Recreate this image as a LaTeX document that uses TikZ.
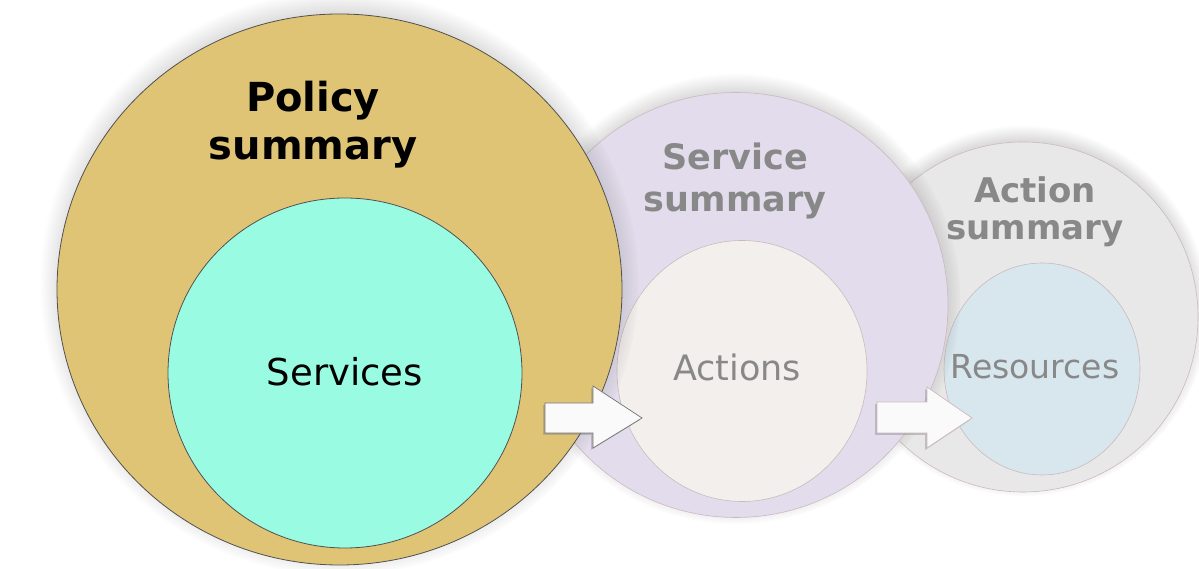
\documentclass[tikz,border=0pt]{standalone}
\usepackage{fontspec}
\setmainfont{DejaVu Sans}
\usetikzlibrary{shapes.geometric,shadows}
\definecolor{goldfill}{RGB}{224,196,118}
\definecolor{aquafill}{RGB}{153,252,226}
\definecolor{lavfill}{RGB}{226,220,236}
\definecolor{actfill}{RGB}{242,239,236}
\definecolor{asumfill}{RGB}{232,232,232}
\definecolor{resfill}{RGB}{216,230,238}
\definecolor{fadeline}{RGB}{205,185,188}
\definecolor{fadetext}{RGB}{136,136,136}
\definecolor{darkline}{RGB}{80,80,80}
\tikzset{
  bub/.style={ellipse, inner sep=0pt, outer sep=0pt},
  glow/.style={circular drop shadow={shadow xshift=0pt, shadow yshift=6pt, shadow scale=1.06, opacity=0.5}},
  titletxt/.style={font=\bfseries, anchor=base, inner sep=0pt},
  plaintxt/.style={anchor=center, inner sep=0pt},
  blockarrow/.style={fill=white!96!gray, line width=0.7pt, line join=miter,
     drop shadow={shadow xshift=-2pt, shadow yshift=-2pt, opacity=0.4}}
}
\begin{document}
\begin{tikzpicture}[x=1pt,y=1pt]
\useasboundingbox (0,0) rectangle (1199,569);
% back: action summary
\node[bub, glow, fill=asumfill, draw=fadeline, line width=0.6pt, minimum width=350, minimum height=350] (asum) at (1023,252) {};
\node[bub, fill=resfill, draw=fadeline, line width=0.6pt, minimum width=196, minimum height=212] (res) at (1042,200) {};
% service summary
\node[bub, glow, fill=lavfill, draw=fadeline, line width=0.6pt, minimum width=424, minimum height=425] (ssum) at (736,264) {};
\node[bub, fill=actfill, draw=fadeline, line width=0.6pt, minimum width=250, minimum height=261] (act) at (742,198) {};
% policy summary
\node[bub, glow, fill=goldfill, draw=darkline, line width=0.8pt, minimum width=565, minimum height=551] (psum) at (339.5,279.5) {};
\node[bub, fill=aquafill, draw=darkline, line width=0.8pt, minimum width=354, minimum height=350] (serv) at (345,196) {};
% texts
\node[titletxt, font=\fontsize{40}{48}\bfseries\selectfont] (pt1) at (313,457) {Policy};
\node[titletxt, font=\fontsize{40}{48}\bfseries\selectfont] (pt2) at (313,409) {summary};
\node[plaintxt, font=\fontsize{37}{44}\selectfont] (servtxt) at (serv.center) [yshift=1pt] {Services};
\node[titletxt, text=fadetext, font=\fontsize{35}{42}\bfseries\selectfont] (st1) at (735,399) {Service};
\node[titletxt, text=fadetext, font=\fontsize{35}{42}\bfseries\selectfont] (st2) at (735,357) {summary};
\node[plaintxt, text=fadetext, font=\fontsize{35}{42}\selectfont] (acttxt) at (737,202) {Actions};
\node[titletxt, text=fadetext, font=\fontsize{34}{40}\bfseries\selectfont] (at1) at (1035,366) {Action};
\node[titletxt, text=fadetext, font=\fontsize{34}{40}\bfseries\selectfont] (at2) at (1035,329) {summary};
\node[plaintxt, text=fadetext, font=\fontsize{33}{40}\selectfont] (restxt) at (1035,202) {Resources};
% block arrows
\path[blockarrow, draw=darkline!80] (545,166) -- (593,166) -- (593,183) -- (642,151) -- (593,121) -- (593,136) -- (545,136) -- cycle;
\path[blockarrow, draw=fadeline] (877,167) -- (927,167) -- (927,182) -- (972,151) -- (927,121) -- (927,136) -- (877,136) -- cycle;
\end{tikzpicture}
\end{document}
